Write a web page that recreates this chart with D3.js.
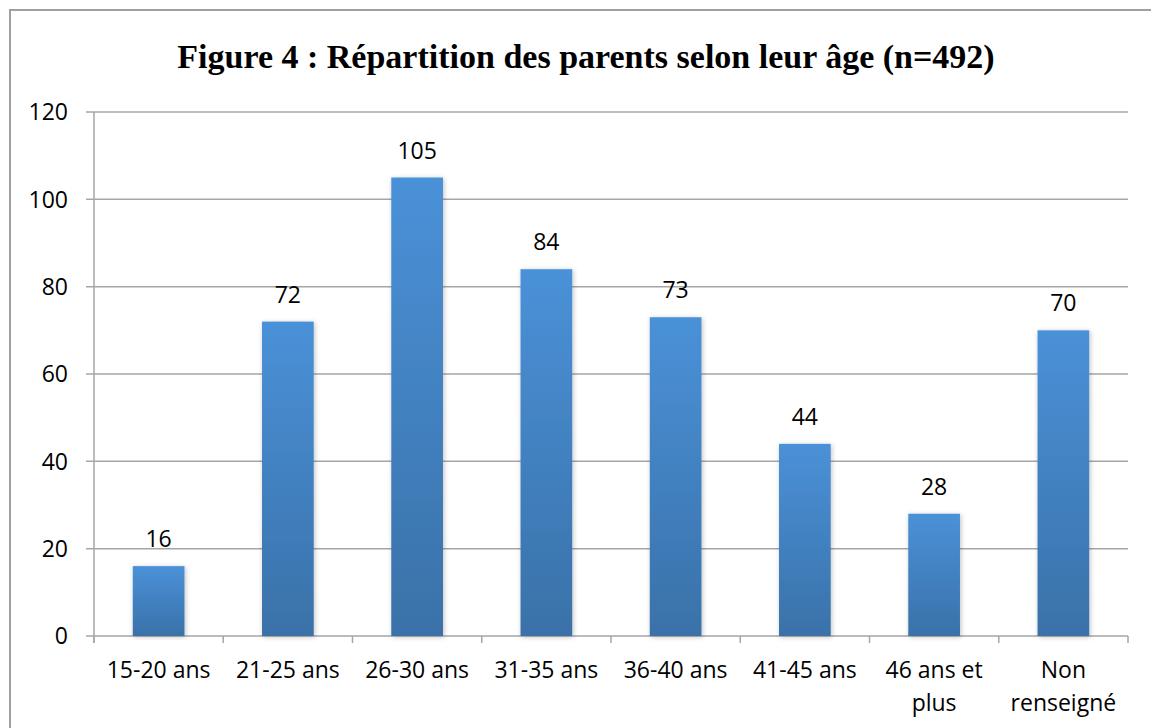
<!DOCTYPE html>
<html>
<head>
<meta charset="utf-8">
<script src="https://cdn.jsdelivr.net/npm/d3@7"></script>
<style>
    body { margin: 0; background: #fff; }
    svg { display: block; }
    .lbl { font-family: "Open Sans", sans-serif; font-size: 23px; fill: #000; }
    .title { font-family: "Liberation Serif", serif; font-weight: bold; font-size: 34px; fill: #000; }
</style>
</head>
<body>
<svg id="chart" width="1151" height="728"></svg>
<script>
// Chart data
const categories = ["15-20 ans", "21-25 ans", "26-30 ans", "31-35 ans", "36-40 ans", "41-45 ans", "46 ans et plus", "Non renseigné"];
const labelLines = [["15-20 ans"], ["21-25 ans"], ["26-30 ans"], ["31-35 ans"], ["36-40 ans"], ["41-45 ans"], ["46 ans et", "plus"], ["Non", "renseigné"]];
const counts = [16, 72, 105, 84, 73, 44, 28, 70];
const yTicks = [0, 20, 40, 60, 80, 100, 120];
const titleText = "Figure 4 : Répartition des parents selon leur âge (n=492)";

const svg = d3.select("#chart");
const plot = {left: 94, right: 1128, top: 112, bottom: 636};
const gridColor = "#a6a6a6";

// Outer frame
svg.append("rect")
    .attr("x", 10).attr("y", 10)
    .attr("width", 1160).attr("height", 740)
    .attr("fill", "none")
    .attr("stroke", "#a0a0a0")
    .attr("stroke-width", 2);

// Gradient + shadow for bars
const defs = svg.append("defs");
const grad = defs.append("linearGradient")
    .attr("id", "barGrad")
    .attr("x1", 0).attr("y1", 0).attr("x2", 0).attr("y2", 1);
grad.append("stop").attr("offset", "0%").attr("stop-color", "#4a91d8");
grad.append("stop").attr("offset", "100%").attr("stop-color", "#3a71a8");

const shadow = defs.append("filter")
    .attr("id", "shadow")
    .attr("x", "-20%").attr("y", "-5%").attr("width", "140%").attr("height", "110%");
shadow.append("feDropShadow")
    .attr("dx", 1).attr("dy", 1)
    .attr("stdDeviation", 2.5)
    .attr("flood-color", "#000")
    .attr("flood-opacity", 0.25);

// Scales
const x = d3.scaleBand()
    .domain(categories)
    .range([plot.left, plot.right])
    .paddingInner(0.6)
    .paddingOuter(0.3);

const y = d3.scaleLinear()
    .domain([0, 120])
    .range([plot.bottom, plot.top]);

// Gridlines and y labels
const yAxis = svg.append("g").attr("class", "y-axis");
yAxis.selectAll("line.grid")
    .data(yTicks)
    .join("line")
    .attr("class", "grid")
    .attr("x1", plot.left - 8).attr("x2", plot.right)
    .attr("y1", d => y(d)).attr("y2", d => y(d))
    .attr("stroke", gridColor)
    .attr("stroke-width", 1.5);

yAxis.selectAll("text")
    .data(yTicks)
    .join("text")
    .attr("class", "lbl")
    .attr("x", plot.left - 26)
    .attr("y", d => y(d))
    .attr("dy", "0.36em")
    .attr("text-anchor", "end")
    .text(d => d);

// Vertical axis line
svg.append("line")
    .attr("x1", plot.left).attr("x2", plot.left)
    .attr("y1", plot.top).attr("y2", plot.bottom + 7)
    .attr("stroke", gridColor)
    .attr("stroke-width", 1.5);

// Category boundary ticks
const step = x.step();
svg.append("g").selectAll("line")
    .data(d3.range(categories.length + 1))
    .join("line")
    .attr("x1", i => plot.left + i * step).attr("x2", i => plot.left + i * step)
    .attr("y1", plot.bottom).attr("y2", plot.bottom + 7)
    .attr("stroke", gridColor)
    .attr("stroke-width", 1.5);

// Bars
svg.append("g").selectAll("rect")
    .data(categories)
    .join("rect")
    .attr("x", d => x(d))
    .attr("y", (d, i) => y(counts[i]))
    .attr("width", x.bandwidth())
    .attr("height", (d, i) => y(0) - y(counts[i]))
    .attr("fill", "url(#barGrad)")
    .attr("filter", "url(#shadow)");

// Value labels
svg.append("g").selectAll("text")
    .data(categories)
    .join("text")
    .attr("class", "lbl")
    .attr("x", d => x(d) + x.bandwidth() / 2)
    .attr("y", (d, i) => y(counts[i]) - 19)
    .attr("text-anchor", "middle")
    .text((d, i) => counts[i]);

// Category labels
const catG = svg.append("g").selectAll("text")
    .data(categories)
    .join("text")
    .attr("class", "lbl")
    .attr("x", d => x(d) + x.bandwidth() / 2)
    .attr("y", 678)
    .attr("text-anchor", "middle");
catG.selectAll("tspan")
    .data((d, i) => labelLines[i])
    .join("tspan")
    .attr("x", function () { return this.parentNode.getAttribute("x"); })
    .attr("dy", (d, j) => j === 0 ? 0 : 33)
    .text(d => d);

// Title
svg.append("text")
    .attr("class", "title")
    .attr("x", 586)
    .attr("y", 68)
    .attr("text-anchor", "middle")
    .text(titleText);
</script>
</body>
</html>
